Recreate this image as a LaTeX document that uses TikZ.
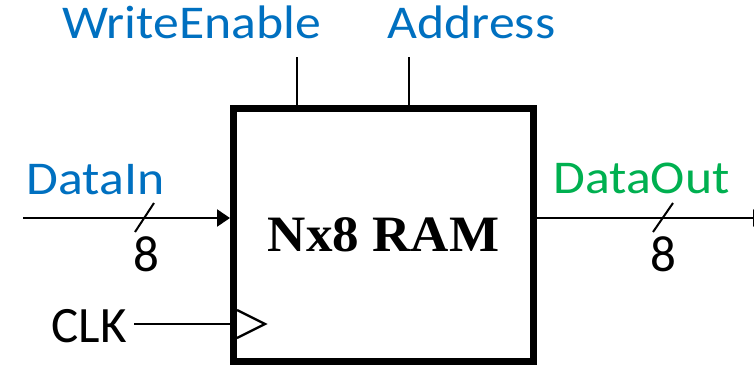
\documentclass[tikz,border=0pt]{standalone}
\usepackage{fontspec}
\newfontfamily\calfont{Carlito}
\newfontfamily\tmsfont{Liberation Serif}
\usetikzlibrary{arrows.meta}
\definecolor{lblblue}{HTML}{0070C0}
\definecolor{lblgreen}{HTML}{00B050}
\begin{document}
\begin{tikzpicture}[x=1pt,y=-1pt,
  wire/.style={line width=2.4pt},
  bluelbl/.style={font=\calfont\fontsize{47}{56}\selectfont, text=lblblue, anchor=base, inner sep=0pt, xscale=1.1},
  greenlbl/.style={font=\calfont\fontsize{47}{56}\selectfont, text=lblgreen, anchor=base, inner sep=0pt, xscale=1.1},
  blacklbl/.style={font=\calfont\fontsize{51}{60}\selectfont, text=black, anchor=base, inner sep=0pt},
  arr/.style={-{Triangle[length=13pt,width=17pt]}}]
\useasboundingbox (0,0) rectangle (754,365);
\clip (0,0) rectangle (754,365);
\node[draw, line width=7pt, minimum width=300pt, minimum height=253pt, inner sep=0pt,
      font=\tmsfont\bfseries\fontsize{51}{60}\selectfont] (ram) at (383.5,235) {\scalebox{1.04}[1]{Nx8 RAM}};
% top labels
\node[bluelbl] (welbl) at (191.5,38) {WriteEnable};
\node[bluelbl] (addrlbl) at (471.5,38) {Address};
\coordinate (we) at (297,57);
\coordinate (ad) at (409,57);
\draw[wire] (we) -- (we |- ram.north);
\draw[wire] (ad) -- (ad |- ram.north);
% DataIn
\node[bluelbl] (dinlbl) at (95.5,194) {DataIn};
\coordinate (din) at (23,218);
\draw[wire, arr] (din) -- (din -| ram.west);
\draw[line width=2pt] (135,232) -- (154,203);
\node[blacklbl] (n8a) at (146,271) {8};
% DataOut
\node[greenlbl] (doutlbl) at (641.5,193) {DataOut};
\coordinate (dout) at (766,218);
\draw[wire, arr] (dout -| ram.east) -- (dout);
\draw[line width=2pt] (653,232) -- (673,203);
\node[blacklbl] (n8b) at (663,271) {8};
% CLK
\node[blacklbl, anchor=base east] (clk) at (127,342) {CLK};
\coordinate (clkin) at (134,324);
\draw[wire] (clkin) -- (clkin -| ram.west);
\draw[wire, line join=miter] (237,310) -- (265,324) -- (237,338);
\end{tikzpicture}
\end{document}
